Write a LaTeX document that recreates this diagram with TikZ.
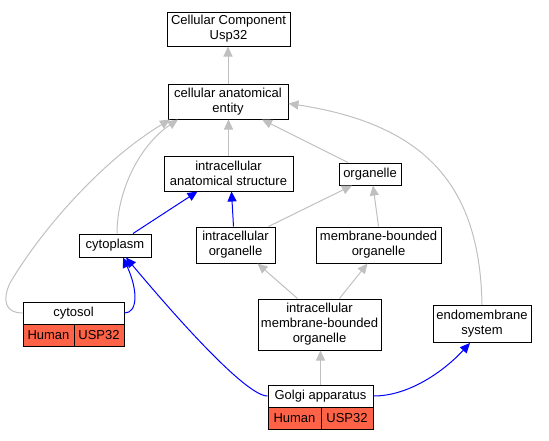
\documentclass[tikz,border=0pt]{standalone}
\usepackage{fontspec}
\setmainfont{Liberation Sans}
\usetikzlibrary{arrows.meta}
\definecolor{edgegray}{RGB}{192,192,192}
\definecolor{tomatoc}{RGB}{255,99,71}
\begin{document}
\begin{tikzpicture}[x=1pt,y=-1pt,
  box/.style={draw=black,line width=1pt,fill=white,inner sep=0pt,align=center,
    font=\fontsize{13}{15}\selectfont},
  cell/.style={box,fill=tomatoc},
  gedge/.style={draw=edgegray,line width=1pt,-{Triangle[length=10pt,width=9pt]}},
  bedge/.style={draw=blue,line width=1pt,-{Triangle[length=10pt,width=9pt]}}]
\useasboundingbox (0,0) rectangle (549,440);
% nodes
\node[box,minimum width=123pt,minimum height=34pt] (ccu) at (228.5,29) {Cellular Component\\Usp32};
\node[box,minimum width=120pt,minimum height=35pt] (cae) at (228,101.5) {cellular anatomical\\entity};
\node[box,minimum width=129pt,minimum height=35pt] (ias) at (228.5,173.5) {intracellular\\anatomical structure};
\node[box,minimum width=62pt,minimum height=22pt] (org) at (370,174) {organelle};
\node[box,minimum width=72pt,minimum height=23pt] (cyto) at (115,245.5) {cytoplasm};
\node[box,minimum width=79pt,minimum height=36pt] (io) at (235.5,245) {intracellular\\organelle};
\node[box,minimum width=125pt,minimum height=36pt] (mbo) at (378.5,245) {membrane-bounded\\organelle};
\node[box,minimum width=123pt,minimum height=51pt] (imbo) at (319.5,324.5) {intracellular\\membrane-bounded\\organelle};
\node[box,minimum width=98pt,minimum height=37pt] (ems) at (482,324) {endomembrane\\system};
\node[box,minimum width=101pt,minimum height=22pt] (cytosol) at (73.5,313) {cytosol};
\node[cell,minimum width=51pt,minimum height=22pt] (cytosolh) at (48.5,335) {Human};
\node[cell,minimum width=50pt,minimum height=22pt] (cytosolu) at (99,335) {USP32};
\node[box,minimum width=105pt,minimum height=22pt] (golgi) at (320.5,396) {Golgi apparatus};
\node[cell,minimum width=53pt,minimum height=22pt] (golgih) at (294.5,418) {Human};
\node[cell,minimum width=52pt,minimum height=22pt] (golgiu) at (347,418) {USP32};
% edges
\draw[gedge] (cae.north) -- (cae.north |- ccu.south);
\draw[gedge] (ias.north) -- (ias.north |- cae.south);
\draw[gedge] ([xshift=-22pt]org.north) -- ([xshift=34pt]cae.south);
\draw[gedge] (ems.north) .. controls (480,190) and (430,125) .. ([yshift=-2pt]cae.east);
\draw[gedge] ([xshift=2pt]cyto.north) .. controls (117,190) and (140,145) .. ([xshift=-50pt]cae.south);
\draw[gedge] (cytosol.west) .. controls (5,313) and (2,300) .. (10,283)
  .. controls (40,232) and (100,162) .. ([xshift=-58pt]cae.south);
\draw[bedge] ([xshift=18pt]cyto.north) -- ([xshift=-31pt]ias.south);
\draw[bedge] ([xshift=-2pt]io.north) -- ([xshift=3pt]ias.south);
\draw[gedge] ([xshift=-7pt]io.north east) -- ([xshift=-18pt]org.south);
\draw[gedge] (mbo.north) -- ([xshift=3pt]org.south);
\draw[gedge] ([xshift=20pt]imbo.north) -- ([xshift=-11pt]mbo.south);
\draw[gedge] ([xshift=-22pt]imbo.north) -- ([xshift=22pt]io.south);
\draw[gedge] (golgi.north) -- (golgi.north |- imbo.south);
\draw[bedge] (cytosol.east) .. controls (138,313) and (138,290) .. ([xshift=8pt]cyto.south);
\draw[bedge] (golgi.west) .. controls (245,396) and (170,310) .. ([xshift=11pt]cyto.south);
\draw[bedge] (golgi.east) .. controls (410,396) and (445,370) .. ([xshift=-12pt]ems.south);
\end{tikzpicture}
\end{document}
